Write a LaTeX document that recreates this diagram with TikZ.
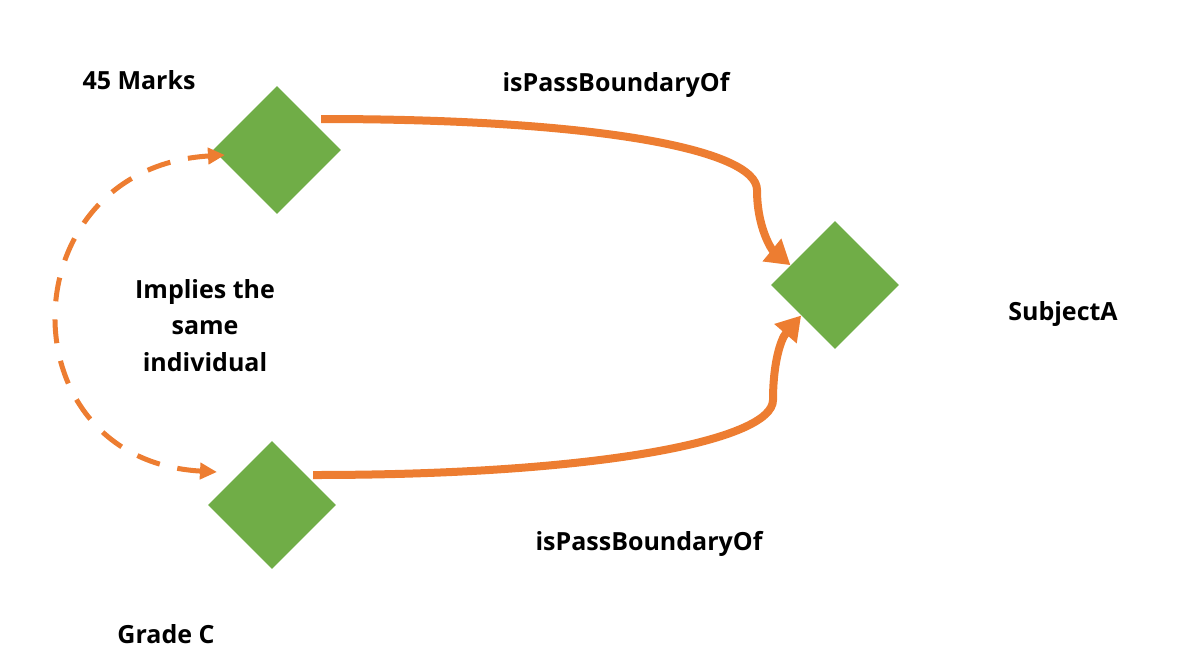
\documentclass[tikz,border=0pt]{standalone}
\usepackage{fontspec}
\setmainfont{Open Sans}
\usetikzlibrary{shapes.geometric,arrows.meta}
\definecolor{linkorange}{HTML}{ED7D31}
\definecolor{itemgreen}{HTML}{70AD47}
\tikzset{
    item/.style={diamond, fill=itemgreen, inner sep=0pt, minimum size=64pt},
    label/.style={font=\fontsize{12.5}{18.25}\selectfont\bfseries, anchor=base, align=center},
    link/.style={line width=4pt, color=linkorange, -{Triangle[length=12pt, width=14pt]}},
    same/.style={line width=2.5pt, color=linkorange, dash pattern=on 12pt off 9pt,
        {Triangle[length=8.5pt, width=8pt]}-{Triangle[length=8.5pt, width=8pt]}}
}
\begin{document}
\begin{tikzpicture}[x=0.5pt, y=-0.5pt]
    \useasboundingbox (0,0) rectangle (1177,654);
    \node[item] (marks) at (277,150) {};
    \node[item] (gradec) at (272,505) {};
    \node[item] (subj) at (835,285) {};
    \coordinate (marksout) at (321,119);
    \coordinate (marksin) at (225,155);
    \coordinate (gradecout) at (313,475);
    \coordinate (gradecin) at (217,472);
    \coordinate (topbend) at (757,190);
    \coordinate (botbend) at (773,400);
    \draw[link] (marksout) .. controls (600,119) and (757,150) .. (topbend)
        .. controls (757,228) and (772,250) .. (subj.156);
    \draw[link] (gradecout) .. controls (600,475) and (773,440) .. (botbend)
        .. controls (773,365) and (780,340) .. (subj.222);
    \draw[same] (gradecin) .. controls (2,460) and (8,168) .. (marksin);
    \node[label] (markslabel) at (139,89) {45 Marks};
    \node[label] (toplink) at (616,91) {isPassBoundaryOf};
    \node[label] (botlink) at (649,550) {isPassBoundaryOf};
    \node[label] (subjlabel) at (1063,320) {SubjectA};
    \node[label] (gradelabel) at (166,643) {Grade C};
    \node[label, anchor=north] (samelabel) at (205,272) {Implies the\\same\\individual};
\end{tikzpicture}
\end{document}
